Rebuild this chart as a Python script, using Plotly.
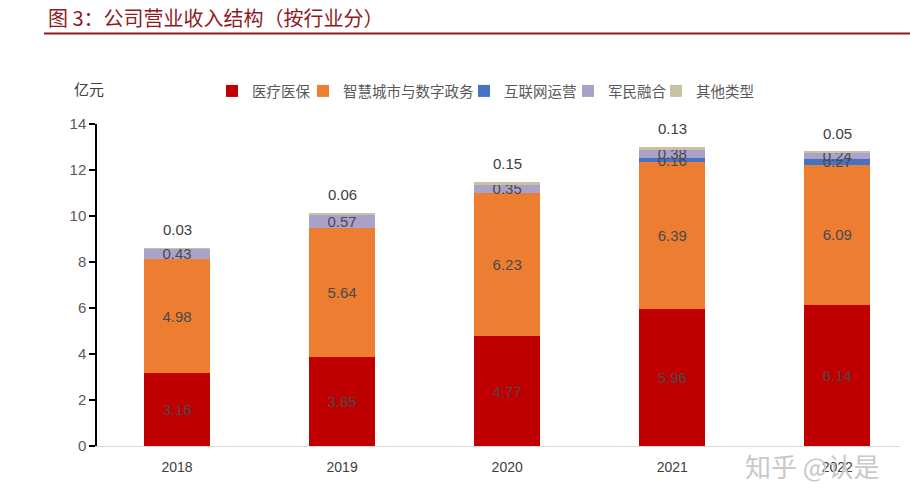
import plotly.graph_objects as go

years = ['2018', '2019', '2020', '2021', '2022']
medical = [3.16, 3.85, 4.77, 5.96, 6.14]
smart_city = [4.98, 5.64, 6.23, 6.39, 6.09]
internet = [0, 0, 0, 0.16, 0.27]
military = [0.43, 0.57, 0.35, 0.38, 0.24]
other = [0.03, 0.06, 0.15, 0.13, 0.05]

series_names = ['医疗医保', '智慧城市与数字政务', '互联网运营', '军民融合', '其他类型']
colors = ['#C00000', '#ED7D31', '#4472C4', '#ABA2CA', '#C9C1A3']
legend_px = [212, 303, 464, 568, 656]

num_font = 'Liberation Sans, Arial, sans-serif'
cjk_font = 'Noto Sans CJK SC, sans-serif'

W, H = 910, 500
L, R, T, B = 97, 10, 124, 54
PW, PH = W - L - R, H - T - B


def px_x(px):
    return (px - L) / PW


def px_y(py):
    return (H - B - py) / PH


def fmt(vals):
    return ['' if v == 0 else f'{v:.2f}' for v in vals]


fig = go.Figure()
data = [medical, smart_city, internet, military, other]
legend_ids = ['legend', 'legend2', 'legend3', 'legend4', 'legend5']
for i, (name, vals, col) in enumerate(zip(series_names, data, colors)):
    is_top = (i == len(data) - 1)
    fig.add_trace(go.Bar(
        name=name, x=years, y=vals, marker=dict(color=col, line=dict(width=0)),
        width=0.4,
        text=None if is_top else fmt(vals),
        textposition='inside', insidetextanchor='middle', constraintext='none',
        textfont=dict(family=num_font, size=15, color='#4a4a4a'),
        hoverinfo='skip', legend=legend_ids[i],
    ))

totals = [sum(v) for v in zip(*data)]
annotations = []
for idx, (tot, o) in enumerate(zip(totals, other)):
    annotations.append(dict(x=idx, y=tot, xref='x', yref='y', text=f'{o:.2f}',
                            showarrow=False, yanchor='bottom', yshift=8,
                            font=dict(family=num_font, size=15, color='#404040')))

# title
annotations.append(dict(x=px_x(46), y=px_y(18), xref='paper', yref='paper',
                        xanchor='left', yanchor='middle', showarrow=False,
                        text='图 3：公司营业收入结构（按行业分）',
                        font=dict(family=cjk_font, size=20, color='#8E1B1E')))
# unit label
annotations.append(dict(x=px_x(89), y=px_y(88), xref='paper', yref='paper',
                        xanchor='center', yanchor='middle', showarrow=False,
                        text='亿元', font=dict(family=cjk_font, size=15, color='#404040')))
# watermark
annotations.append(dict(x=px_x(743), y=px_y(465), xref='paper', yref='paper',
                        xanchor='left', yanchor='middle', showarrow=False,
                        text='知乎 @认是', font=dict(family=cjk_font, size=26, color='#C8C8C8')))

legends = {}
for i, lid in enumerate(legend_ids):
    legends[lid] = dict(orientation='h', x=px_x(legend_px[i]), xanchor='left',
                        y=px_y(91), yanchor='middle', bgcolor='rgba(0,0,0,0)',
                        font=dict(family=cjk_font, size=14.5, color='#595959'),
                        itemwidth=30)

fig.update_layout(
    width=W, height=H,
    barmode='stack',
    paper_bgcolor='white', plot_bgcolor='white',
    margin=dict(l=L, r=R, t=T, b=B, autoexpand=False),
    showlegend=True,
    annotations=annotations,
    shapes=[dict(type='line', xref='paper', yref='paper',
                 x0=px_x(44), x1=px_x(910), y0=px_y(33.5), y1=px_y(33.5),
                 line=dict(color='#8E1B1E', width=2))],
    xaxis=dict(type='category', range=[-0.485, 4.38], showline=True, linecolor='#D9D9D9',
               linewidth=1, ticks='', showgrid=False, zeroline=False, ticklabelstandoff=8,
               tickfont=dict(family=num_font, size=14, color='#404040')),
    yaxis=dict(range=[0, 14], dtick=2, showline=True, linecolor='#000000', linewidth=1.5,
               ticks='outside', ticklen=6, tickcolor='#000000', tickwidth=1.5,
               showgrid=False, zeroline=False,
               tickfont=dict(family=num_font, size=15, color='#595959')),
    **legends,
)

fig.write_html('out.html', config={'displayModeBar': False},
               post_script="document.body.style.margin='0';")
